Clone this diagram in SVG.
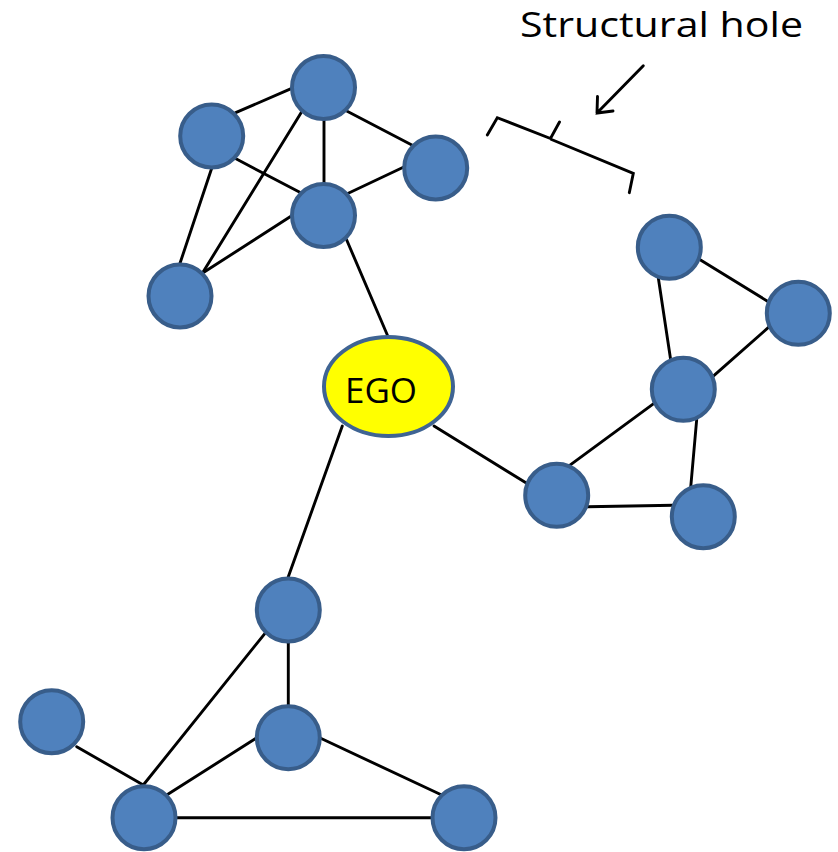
<svg xmlns="http://www.w3.org/2000/svg" width="838" height="852" viewBox="0 0 838 852">
<style>
.n{fill:#4F81BD;stroke:#385D8A;stroke-width:4}
.e{stroke:#000;stroke-width:2.9;fill:none;stroke-linecap:round}
.t{font-family:"Open Sans","Liberation Sans",Arial,sans-serif;fill:#000}
</style>
<rect width="838" height="852" fill="#fff"/>
<g id="connectors">
<line class="e" x1="291.7" y1="88.3" x2="235.7" y2="112.7"/>
<line class="e" x1="324" y1="120.7" x2="324" y2="183.3"/>
<line class="e" x1="346.7" y1="111" x2="413.3" y2="145.7"/>
<line class="e" x1="301.7" y1="111.7" x2="202.3" y2="273.3"/>
<line class="e" x1="235" y1="158.3" x2="301.7" y2="193.3"/>
<line class="e" x1="211.7" y1="168.3" x2="180" y2="263.3"/>
<line class="e" x1="346.7" y1="194" x2="403.3" y2="167.3"/>
<line class="e" x1="291.7" y1="215.7" x2="202.3" y2="273.3"/>
<line class="e" x1="346.7" y1="240" x2="388.3" y2="337.3"/>
<line class="e" x1="342.3" y1="426" x2="288.3" y2="576.7"/>
<line class="e" x1="434" y1="426" x2="526.7" y2="483.3"/>
<line class="e" x1="699.3" y1="259.3" x2="768.3" y2="301.7"/>
<line class="e" x1="658.3" y1="277.7" x2="670.7" y2="360"/>
<line class="e" x1="769.3" y1="326.7" x2="712.7" y2="376.7"/>
<line class="e" x1="654" y1="403.3" x2="569.3" y2="465.7"/>
<line class="e" x1="696.7" y1="419.3" x2="690.7" y2="487.3"/>
<line class="e" x1="587.3" y1="506.7" x2="673.3" y2="505.3"/>
<line class="e" x1="288.3" y1="643.3" x2="288.3" y2="704.3"/>
<line class="e" x1="265" y1="633.3" x2="143.3" y2="785"/>
<line class="e" x1="76.7" y1="746.7" x2="143.3" y2="785"/>
<line class="e" x1="256" y1="738.3" x2="166.7" y2="795"/>
<line class="e" x1="320.7" y1="738.3" x2="441.7" y2="795"/>
<line class="e" x1="176.7" y1="817.7" x2="431.7" y2="817.7"/>
</g>
<g id="nodeA"><circle class="n" cx="323.5" cy="87.5" r="31.5"/></g>
<g id="nodeB"><circle class="n" cx="211.7" cy="136" r="31.5"/></g>
<g id="nodeC"><circle class="n" cx="435.7" cy="168" r="31.5"/></g>
<g id="nodeD"><circle class="n" cx="323.5" cy="215.5" r="31.5"/></g>
<g id="nodeE"><circle class="n" cx="180" cy="296" r="31.5"/></g>
<g id="ego"><ellipse cx="388.5" cy="386.5" rx="64.5" ry="49.5" fill="#FFFF00" stroke="#3F6493" stroke-width="4"/><text class="t" x="381" y="402.5" font-size="34" text-anchor="middle" textLength="72" lengthAdjust="spacingAndGlyphs">EGO</text></g>
<g id="nodeF"><circle class="n" cx="669.3" cy="247.3" r="31.5"/></g>
<g id="nodeG"><circle class="n" cx="798.3" cy="313.3" r="31.5"/></g>
<g id="nodeH"><circle class="n" cx="683.3" cy="389.3" r="31.5"/></g>
<g id="nodeI"><circle class="n" cx="556.7" cy="495.3" r="31.5"/></g>
<g id="nodeJ"><circle class="n" cx="703.3" cy="516.7" r="31.5"/></g>
<g id="nodeK"><circle class="n" cx="288.3" cy="610" r="31.5"/></g>
<g id="nodeL"><circle class="n" cx="51.7" cy="721.7" r="31.5"/></g>
<g id="nodeM"><circle class="n" cx="288.3" cy="737.7" r="31.5"/></g>
<g id="nodeN"><circle class="n" cx="144" cy="817.7" r="31.5"/></g>
<g id="nodeO"><circle class="n" cx="464" cy="817.7" r="31.5"/></g>
<g id="label">
<text class="t" x="520" y="37" font-size="35" textLength="283" lengthAdjust="spacingAndGlyphs">Structural hole</text>
<path class="e" d="M643.3,65.7 L597,113 M597.5,96.5 L597,113 L613,111"/>
<path class="e" d="M487.3,135 L497.3,117.7 L550.5,138.5 L559.5,122 M551.5,139.5 L633.3,173.3 L629.3,192.7" stroke-linejoin="miter"/>
</g>
</svg>
